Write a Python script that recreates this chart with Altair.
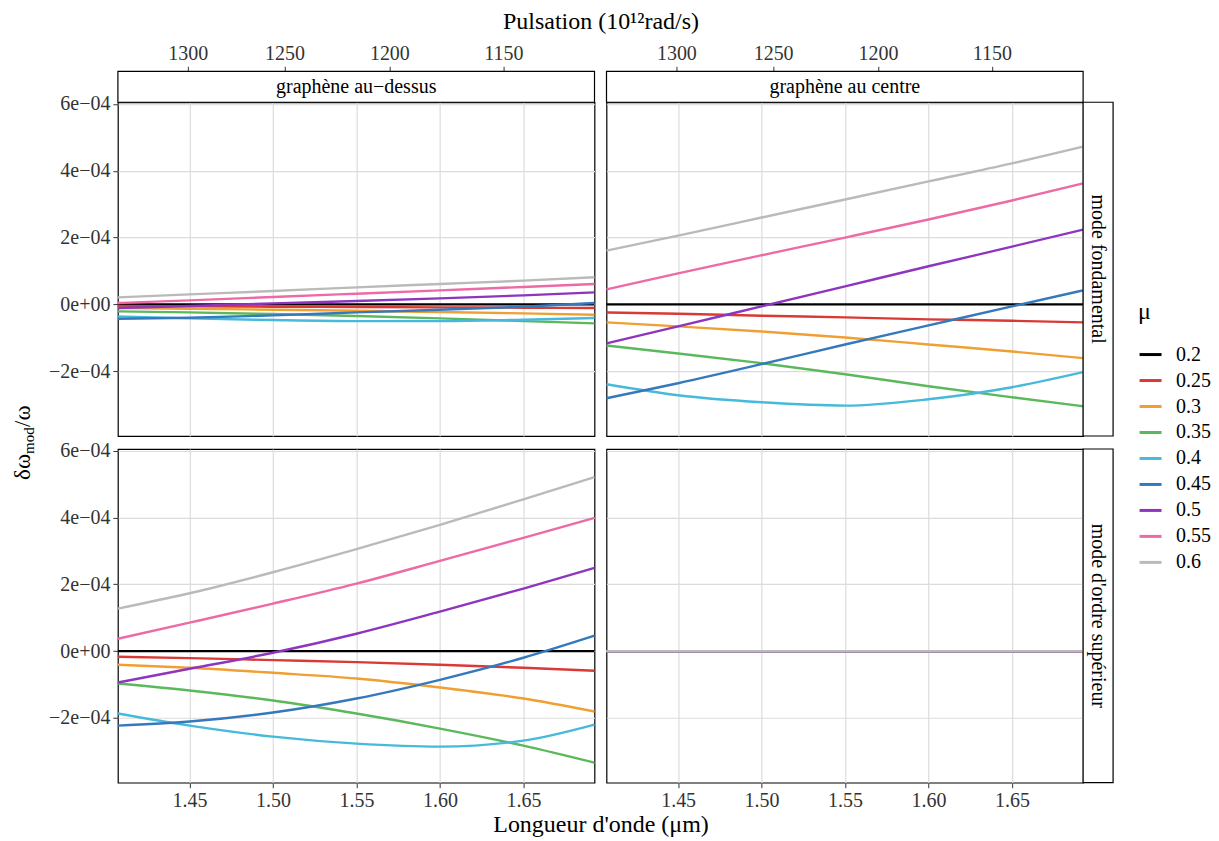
import math
import altair as alt
import pandas as pd

FONT = "Liberation Serif"

# ---------------- data ----------------
mu_levels = ["0.2", "0.25", "0.3", "0.35", "0.4", "0.45", "0.5", "0.55", "0.6"]
mu_colors = ["#000000", "#d93a35", "#f0a033", "#5cb85c", "#47b9db",
             "#3579bd", "#8e35c0", "#ee6aa6", "#bababa"]

# wavelength samples (µm)
wavelength = [1.4071, 1.45, 1.50, 1.55, 1.60, 1.65, 1.6926]
x_domain = [1.4071, 1.6926]
x_ticks = [1.45, 1.50, 1.55, 1.60, 1.65]
pulsation_ticks = [1300, 1250, 1200, 1150]   # 10^12 rad/s
y_ticks = [-2e-4, 0.0, 2e-4, 4e-4, 6e-4]
y_domain = [-3.94e-4, 6.05e-4]

UNIT = 1e-4  # values below are given in units of 1e-4

# top-left: graphène au-dessus / mode fondamental
vals_tl = {
    "0.2":  [0, 0, 0, 0, 0, 0, 0],
    "0.25": [-0.05, -0.06, -0.07, -0.08, -0.09, -0.10, -0.11],
    "0.3":  [-0.11, -0.13, -0.16, -0.19, -0.23, -0.27, -0.31],
    "0.35": [-0.21, -0.24, -0.29, -0.35, -0.42, -0.50, -0.57],
    "0.4":  [-0.36, -0.42, -0.47, -0.50, -0.50, -0.46, -0.41],
    "0.45": [-0.43, -0.40, -0.33, -0.24, -0.16, -0.07, 0.04],
    "0.5":  [-0.11, -0.05, 0.03, 0.10, 0.18, 0.27, 0.36],
    "0.55": [0.04, 0.12, 0.22, 0.32, 0.42, 0.52, 0.61],
    "0.6":  [0.21, 0.30, 0.40, 0.51, 0.61, 0.71, 0.81],
}
# top-right: graphène au centre / mode fondamental
vals_tr = {
    "0.2":  [0, 0, 0, 0, 0, 0, 0],
    "0.25": [-0.24, -0.28, -0.34, -0.39, -0.45, -0.49, -0.54],
    "0.3":  [-0.54, -0.66, -0.81, -0.99, -1.20, -1.41, -1.61],
    "0.35": [-1.23, -1.47, -1.76, -2.09, -2.45, -2.78, -3.05],
    "0.4":  [-2.39, -2.72, -2.93, -3.03, -2.84, -2.48, -2.03],
    "0.45": [-2.81, -2.36, -1.79, -1.20, -0.63, -0.06, 0.42],
    "0.5":  [-1.17, -0.66, -0.06, 0.54, 1.14, 1.73, 2.24],
    "0.55": [0.45, 0.93, 1.47, 2.00, 2.54, 3.11, 3.62],
    "0.6":  [1.61, 2.06, 2.60, 3.14, 3.68, 4.22, 4.72],
}
# bottom-left: graphène au-dessus / mode d'ordre supérieur
vals_bl = {
    "0.2":  [0, 0, 0, 0, 0, 0, 0],
    "0.25": [-0.17, -0.21, -0.27, -0.33, -0.41, -0.50, -0.59],
    "0.3":  [-0.41, -0.50, -0.65, -0.82, -1.09, -1.42, -1.81],
    "0.35": [-0.97, -1.18, -1.48, -1.87, -2.32, -2.83, -3.34],
    "0.4":  [-1.87, -2.23, -2.56, -2.77, -2.86, -2.68, -2.20],
    "0.45": [-2.23, -2.11, -1.84, -1.42, -0.86, -0.20, 0.46],
    "0.5":  [-0.94, -0.53, -0.05, 0.52, 1.18, 1.87, 2.49],
    "0.55": [0.37, 0.85, 1.42, 2.02, 2.70, 3.39, 3.99],
    "0.6":  [1.27, 1.73, 2.36, 3.05, 3.78, 4.54, 5.21],
}
# bottom-right: graphène au centre / mode d'ordre supérieur
vals_br = {mu: [0, 0, 0, 0, 0, 0, 0] for mu in mu_levels}

panels = {"TL": vals_tl, "TR": vals_tr, "BL": vals_bl, "BR": vals_br}

rows = []
for key, dct in panels.items():
    for i, mu in enumerate(mu_levels):
        for lam, v in zip(wavelength, dct[mu]):
            rows.append({"panel": key, "mu": mu, "k": i, "lam": lam, "val": v * UNIT})
df = pd.DataFrame(rows)

# positions of pulsation ticks on the wavelength axis: lambda = 2*pi*c/omega
lam_for_pulsation = [2 * math.pi * 299.792458 / w for w in pulsation_ticks]

PW, PH = 477, 334
STRIP_H, RSTRIP_W = 31, 30

y_label_expr = ("datum.value > 0.0005 ? '6e\u221204' : datum.value > 0.0003 ? '4e\u221204' : "
                "datum.value > 0.0001 ? '2e\u221204' : datum.value > -0.0001 ? '0e+00' : '\u22122e\u221204'")

color_scale = alt.Scale(domain=mu_levels, range=mu_colors)
x_scale = alt.Scale(domain=x_domain, nice=False, zero=False)
y_scale = alt.Scale(domain=y_domain, nice=False, zero=False)
shared_legend = alt.Legend(title="\u03bc", orient="none", legendX=1021, legendY=198,
                           labelFont=FONT, titleFont=FONT)


def one(**kw):
    return pd.DataFrame({k: [v] for k, v in kw.items()})


def panel(key, top_label=None, right_label=None, show_x=False, show_y=False,
          with_ytitle=False, pulsation_title=False):
    d = df[df.panel == key]
    xaxis = alt.Axis(values=x_ticks, format=".2f", labels=show_x, ticks=show_x,
                     orient="bottom",
                     title="Longueur d'onde (\u03bcm)" if key == "BL" else None,
                     titleX=483, titlePadding=2, grid=True)
    yaxis = alt.Axis(values=y_ticks, labelExpr=y_label_expr, labels=show_y,
                     ticks=show_y, title=None, grid=True)
    lines = alt.Chart(d).mark_line(strokeWidth=2.4, interpolate="monotone").encode(
        x=alt.X("lam:Q", scale=x_scale, axis=xaxis),
        y=alt.Y("val:Q", scale=y_scale, axis=yaxis),
        color=alt.Color("mu:N", scale=color_scale, legend=shared_legend, sort=mu_levels),
        detail="k:O",
    )
    layers = [lines]
    if top_label is not None:
        layers.append(alt.Chart(one(a=1)).mark_rect(
            fill="white", stroke="black", strokeWidth=1.2).encode(
            x=alt.value(0), x2=alt.value(PW), y=alt.value(-STRIP_H), y2=alt.value(0)))
        top_axis = alt.Axis(orient="top", offset=STRIP_H, values=lam_for_pulsation,
                            labelExpr="format(2*PI*299.792458/datum.value, '.0f')",
                            grid=False, labels=True, ticks=True,
                            title="Pulsation (10\u00b9\u00b2rad/s)" if pulsation_title else None,
                            titleX=483, titlePadding=10)
        layers.append(alt.Chart(one(lam=(x_domain[0] + x_domain[1]) / 2, t=top_label)).mark_text(
            font=FONT, fontSize=20, baseline="middle", color="black").encode(
            x=alt.X("lam:Q", scale=x_scale, axis=top_axis),
            y=alt.value(-STRIP_H / 2), text="t:N"))
    if right_label is not None:
        layers.append(alt.Chart(one(a=1)).mark_rect(
            fill="white", stroke="black", strokeWidth=1.2).encode(
            x=alt.value(PW), x2=alt.value(PW + RSTRIP_W), y=alt.value(0), y2=alt.value(PH)))
        layers.append(alt.Chart(one(t=right_label)).mark_text(
            angle=90, font=FONT, fontSize=20, baseline="middle", align="center",
            color="black").encode(
            x=alt.value(PW + RSTRIP_W / 2), y=alt.value(PH / 2), text="t:N"))
    if with_ytitle:
        parts = [("\u03b4\u03c9", 23, "right", 0, 0),
                 ("mod", 15, "left", 0, 6),
                 ("/\u03c9", 23, "left", 27, 0)]
        for txt, fs, al, dx, dy in parts:
            layers.append(
                alt.Chart(one(t=txt)).mark_text(
                    angle=270, align=al, baseline="middle", font=FONT, fontSize=fs,
                    dx=dx, dy=dy, color="black"
                ).encode(x=alt.value(-95), y=alt.value(352), text="t:N")
            )
    return alt.layer(*layers).properties(width=PW, height=PH)


tl = panel("TL", top_label="graph\u00e8ne au\u2212dessus", show_y=True,
           with_ytitle=True, pulsation_title=True)
tr = panel("TR", top_label="graph\u00e8ne au centre", right_label="mode fondamental")
bl = panel("BL", show_x=True, show_y=True)
br = panel("BR", right_label="mode d'ordre sup\u00e9rieur", show_x=True)

chart = alt.concat(tl, tr, bl, br, columns=2, spacing={"row": 13, "column": 12},
                   bounds="flush").properties(
    padding={"left": 3, "top": 0, "right": 0, "bottom": 3}
).configure_view(
    stroke="black", strokeWidth=1.2, fill="white"
).configure_axis(
    labelFont=FONT, titleFont=FONT, labelFontSize=20, titleFontSize=24,
    titleFontWeight="normal", labelColor="#333333", tickColor="#333333",
    titleColor="black", gridColor="#dcdcdc", gridWidth=1.2, domain=False,
    tickSize=5, labelPadding=3, titlePadding=6,
).configure_legend(
    titleFont=FONT, labelFont=FONT, titleFontSize=24, titleFontWeight="normal",
    labelFontSize=20, symbolType="stroke", symbolStrokeWidth=3, symbolSize=484,
    rowPadding=3, titlePadding=18, labelOffset=13, padding=0,
    titleColor="black", labelColor="black",
)

chart.save("out.html", embed_options={"renderer": "svg", "actions": False})
